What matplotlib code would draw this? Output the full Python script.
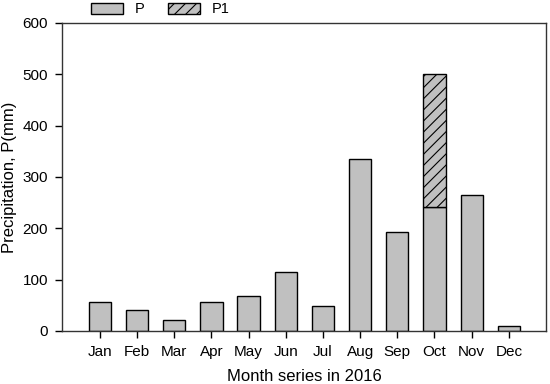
import numpy as np
import matplotlib.pyplot as plt
import matplotlib.patches as mpatches

plt.rcParams['font.family'] = ['Liberation Sans', 'DejaVu Sans']
plt.rcParams['hatch.linewidth'] = 0.8

# ---- data ----
months = ['Jan', 'Feb', 'Mar', 'Apr', 'May', 'Jun',
          'Jul', 'Aug', 'Sep', 'Oct', 'Nov', 'Dec']
p_vals = [56, 40, 22, 56, 68, 115, 48, 335, 193, 241, 265, 9]
p1_vals = [0, 0, 0, 0, 0, 0, 0, 0, 0, 259, 0, 0]   # extra on top of P (Oct)
y_ticks = [0, 100, 200, 300, 400, 500, 600]

fig = plt.figure(figsize=(5.5, 3.84), dpi=100)
ax = fig.add_axes([62 / 550, 1 - 331 / 384, 484 / 550, 308 / 384])

x = np.arange(len(months))
bar_color = '#c0c0c0'
ax.bar(x, p_vals, width=0.6, color=bar_color, edgecolor='black', linewidth=1)
mask = np.array(p1_vals) > 0
ax.bar(x[mask], np.array(p1_vals)[mask], width=0.6, bottom=np.array(p_vals)[mask],
       color=bar_color, edgecolor='black', linewidth=1, hatch='///')

ax.set_xlim(-1.02, 12.0)
ax.set_ylim(0, 600)
ax.set_yticks(y_ticks)
ax.set_xticks(x)
ax.set_xticklabels(months)
ax.tick_params(direction='out', length=5, width=1, labelsize=11, color='black', pad=5)
for s in ax.spines.values():
    s.set_linewidth(1)
    s.set_color('#333333')

ax.set_xlabel('Month series in 2016', fontsize=12, labelpad=7)
ax.set_ylabel('Precipitation, P(mm)', fontsize=12, labelpad=4)

handles = [mpatches.Patch(facecolor=bar_color, edgecolor='black', label='P'),
           mpatches.Patch(facecolor=bar_color, edgecolor='black', hatch='///', label='P1')]
fig.legend(handles=handles, loc='upper left', bbox_to_anchor=(78 / 550, 1.028),
           ncol=2, frameon=False, fontsize=10.5, handlelength=2.2, handleheight=0.8,
           columnspacing=1.6, handletextpad=0.8)

fig.savefig('out.png', dpi=100)
